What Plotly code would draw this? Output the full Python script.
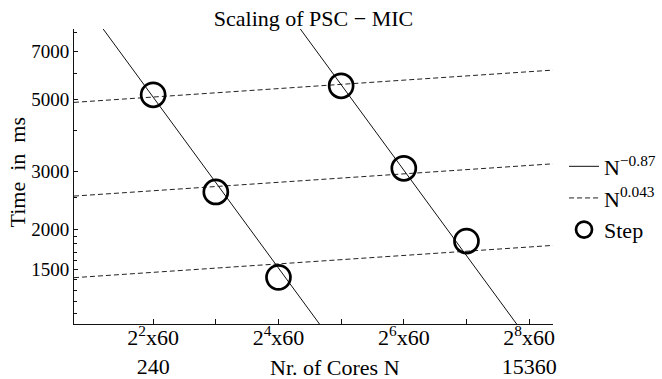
import plotly.graph_objects as go
import numpy as np

# ---- data ----
cores = [240, 480, 960, 1920, 3840, 7680]
step_ms = [5155, 2598, 1422, 5495, 3070, 1837]

solid_exponent = -0.87
solid_prefactors = [5.97e5, 3.98e6]
dashed_exponent = 0.043
dashed_prefactors = [4010, 2070, 1164]
line_x = [100, 20000]

x_tickvals = [240, 960, 3840, 15360]
x_ticktext = ["2<sup>2</sup>x60<br>240", "2<sup>4</sup>x60",
              "2<sup>6</sup>x60", "2<sup>8</sup>x60<br>15360"]
x_minor = [480, 1920, 7680]
y_tickvals = [1500, 2000, 3000, 5000, 7000]
y_ticktext = ["1500", "2000", "3000", "5000", "7000"]
y_minor = [1100, 1200, 1300, 1400, 1600, 1700, 1800, 1900, 2500, 4000, 6000, 8000]

FONT = "Liberation Serif"
INK = "#111111"

fig = go.Figure()

lx = np.array(line_x, dtype=float)
for i, c in enumerate(solid_prefactors):
    fig.add_trace(go.Scatter(
        x=lx, y=c * lx ** solid_exponent, mode="lines",
        line=dict(color=INK, width=1),
        name="N<sup>\u22120.87</sup>", legendgroup="solid",
        showlegend=(i == 0), hoverinfo="skip"))
for i, c in enumerate(dashed_prefactors):
    fig.add_trace(go.Scatter(
        x=lx, y=c * lx ** dashed_exponent, mode="lines",
        line=dict(color="#222222", width=1, dash="5px,3px"),
        name="N<sup>0.043</sup>", legendgroup="dashed",
        showlegend=(i == 0), hoverinfo="skip"))
fig.add_trace(go.Scatter(
    x=cores, y=step_ms, mode="markers", name="Step",
    marker=dict(symbol="circle-open", size=24, color="black",
                line=dict(color="black", width=2.7))))

fig.update_layout(
    width=662, height=379,
    margin=dict(l=74, r=109, t=29, b=55, autoexpand=False),
    paper_bgcolor="white", plot_bgcolor="white",
    font=dict(family=FONT, color="black", size=19),
    title=dict(text="Scaling of PSC \u2212 MIC", x=0.5, xref="paper", xanchor="center",
               y=1 - 18 / 379, yanchor="middle", font=dict(size=22, family=FONT)),
    showlegend=True,
    legend=dict(x=1.023, xanchor="left", y=0.605, yanchor="top",
                font=dict(size=22, family=FONT), bgcolor="rgba(0,0,0,0)",
                itemwidth=30, tracegroupgap=0),
    xaxis=dict(type="log", range=[np.log10(100), np.log10(20000)],
               showgrid=False, zeroline=False, showline=True, linecolor=INK, linewidth=1,
               ticks="inside", ticklen=5, tickcolor=INK, tickwidth=1,
               tickvals=x_tickvals, ticktext=x_ticktext, ticklabelstandoff=-6,
               tickfont=dict(size=22, family=FONT),
               minor=dict(tickvals=x_minor, ticks="inside", ticklen=5,
                          tickcolor=INK, tickwidth=1, showgrid=False)),
    yaxis=dict(type="log", range=[3.01, 3.914],
               showgrid=False, zeroline=False, showline=True, linecolor=INK, linewidth=1,
               ticks="inside", ticklen=4, tickcolor=INK, tickwidth=1,
               tickvals=y_tickvals, ticktext=y_ticktext,
               tickfont=dict(size=19, family=FONT),
               minor=dict(tickvals=y_minor, ticks="inside", ticklen=2.5,
                          tickcolor=INK, tickwidth=1, showgrid=False)),
    annotations=[
        dict(text="Time\u00a0\u00a0in\u00a0\u00a0ms", xref="paper", yref="paper",
             x=(17 - 74) / 479, y=(324 - 172.5) / 295, xanchor="center", yanchor="middle",
             textangle=-90, showarrow=False, font=dict(size=22, family=FONT)),
        dict(text="Nr. of Cores N", xref="paper", yref="paper",
             x=(335 - 74) / 479, y=(324 - 367) / 295, xanchor="center", yanchor="middle",
             showarrow=False, font=dict(size=22, family=FONT)),
    ],
)

fig.write_html("out.html", config={"displayModeBar": False},
               post_script="document.body.style.margin='0';document.body.style.overflow='hidden';")
